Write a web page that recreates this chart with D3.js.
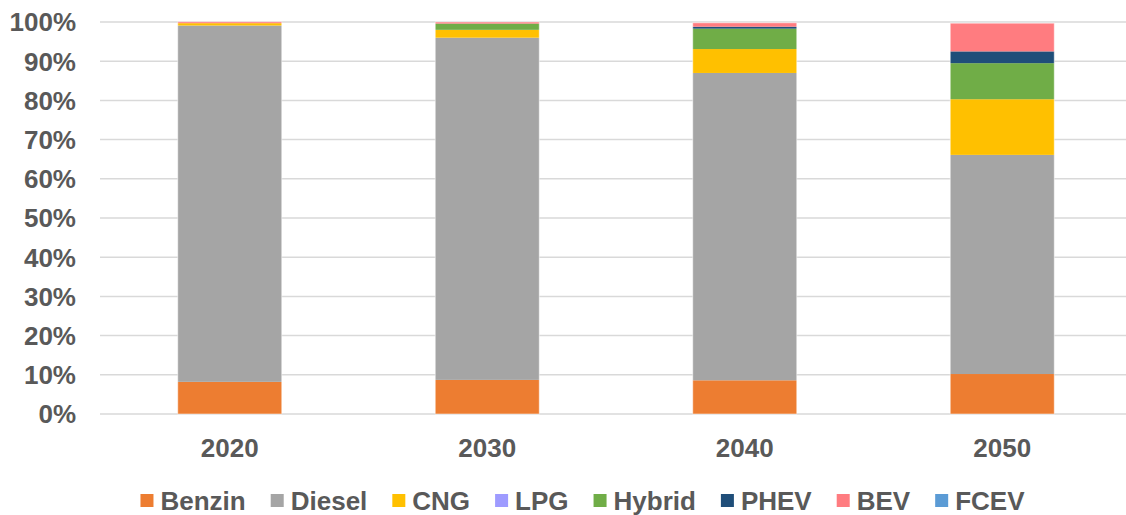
<!DOCTYPE html>
<html>
<head>
<meta charset="utf-8">
<script src="https://cdn.jsdelivr.net/npm/d3@7"></script>
<style>
  html, body { margin: 0; padding: 0; background: #fff; }
  svg { display: block; font-family: "Liberation Sans", Arial, sans-serif; }
</style>
</head>
<body>
<svg id="chart" width="1126" height="515"></svg>
<script>
const years = ["2020", "2030", "2040", "2050"];
const seriesNames = ["Benzin", "Diesel", "CNG", "LPG", "Hybrid", "PHEV", "BEV", "FCEV"];
const seriesColors = ["#ED7D31", "#A5A5A5", "#FFC000", "#9E9BFF", "#70AD47", "#1F4E79", "#FF7C80", "#5B9BD5"];
const benzin = [8.2, 8.7, 8.6, 10.2];
const diesel = [90.9, 87.3, 78.4, 55.9];
const cng    = [0.6, 2.0, 6.1, 14.2];
const lpg    = [0, 0, 0, 0];
const hybrid = [0, 1.6, 5.2, 9.2];
const phev   = [0, 0, 0.5, 3.0];
const bev    = [0.35, 0.4, 1.0, 7.2];
const fcev   = [0, 0, 0, 0];
const yTicks = [0, 10, 20, 30, 40, 50, 60, 70, 80, 90, 100];

const seriesValues = [benzin, diesel, cng, lpg, hybrid, phev, bev, fcev];
const table = years.map((y, i) => {
  const row = { year: y };
  seriesNames.forEach((s, j) => row[s] = seriesValues[j][i]);
  return row;
});

const svg = d3.select("#chart");
const x = d3.scaleBand().domain(years).range([101, 1131]).paddingInner(0.596).paddingOuter(0.298);
const y = d3.scaleLinear().domain([0, 100]).range([414, 22]);
const textColor = "#595959";
const fs = 26;

// gridlines
svg.append("g").selectAll("line").data(yTicks).join("line")
  .attr("x1", 100).attr("x2", 1126)
  .attr("y1", d => y(d)).attr("y2", d => y(d))
  .attr("stroke", "#D9D9D9").attr("stroke-width", 1.5);

// y labels
svg.append("g").selectAll("text").data(yTicks).join("text")
  .attr("x", 76).attr("y", d => y(d))
  .attr("dy", "0.36em")
  .attr("text-anchor", "end")
  .attr("font-size", fs).attr("font-weight", "bold").attr("fill", textColor)
  .text(d => d + "%");

// stacked bars
const stack = d3.stack().keys(seriesNames)(table);
svg.append("g").selectAll("g").data(stack).join("g")
  .attr("fill", (d, i) => seriesColors[i])
  .selectAll("rect").data(d => d).join("rect")
  .attr("x", d => x(d.data.year))
  .attr("width", x.bandwidth())
  .attr("y", d => y(d[1]))
  .attr("height", d => Math.max(0, y(d[0]) - y(d[1])));

// bar outlines (light border)
svg.append("g").selectAll("rect").data(years).join("rect")
  .attr("x", d => x(d)).attr("width", x.bandwidth())
  .attr("y", (d, i) => y(d3.sum(seriesValues, s => s[i])))
  .attr("height", (d, i) => y(0) - y(d3.sum(seriesValues, s => s[i])))
  .attr("fill", "none").attr("stroke", "#fff").attr("stroke-opacity", 0.5).attr("stroke-width", 1);

// x labels
svg.append("g").selectAll("text").data(years).join("text")
  .attr("x", d => x(d) + x.bandwidth() / 2).attr("y", 457)
  .attr("text-anchor", "middle")
  .attr("font-size", fs).attr("font-weight", "bold").attr("fill", textColor)
  .text(d => d);

// legend
const lg = svg.append("g");
const items = lg.selectAll("g").data(seriesNames).join("g");
items.append("rect").attr("width", 13).attr("height", 13).attr("y", 494)
  .attr("fill", (d, i) => seriesColors[i]);
items.append("text").attr("x", 20).attr("y", 510)
  .attr("font-size", fs).attr("font-weight", "bold").attr("fill", textColor)
  .text(d => d);
let cx = 0;
const offs = [];
items.each(function () {
  const w = d3.select(this).select("text").node().getComputedTextLength();
  offs.push(cx);
  cx += 20 + w + 25;
});
const total = cx - 25;
const start = 582.5 - total / 2;
items.attr("transform", (d, i) => `translate(${start + offs[i]},0)`);
</script>
</body>
</html>
